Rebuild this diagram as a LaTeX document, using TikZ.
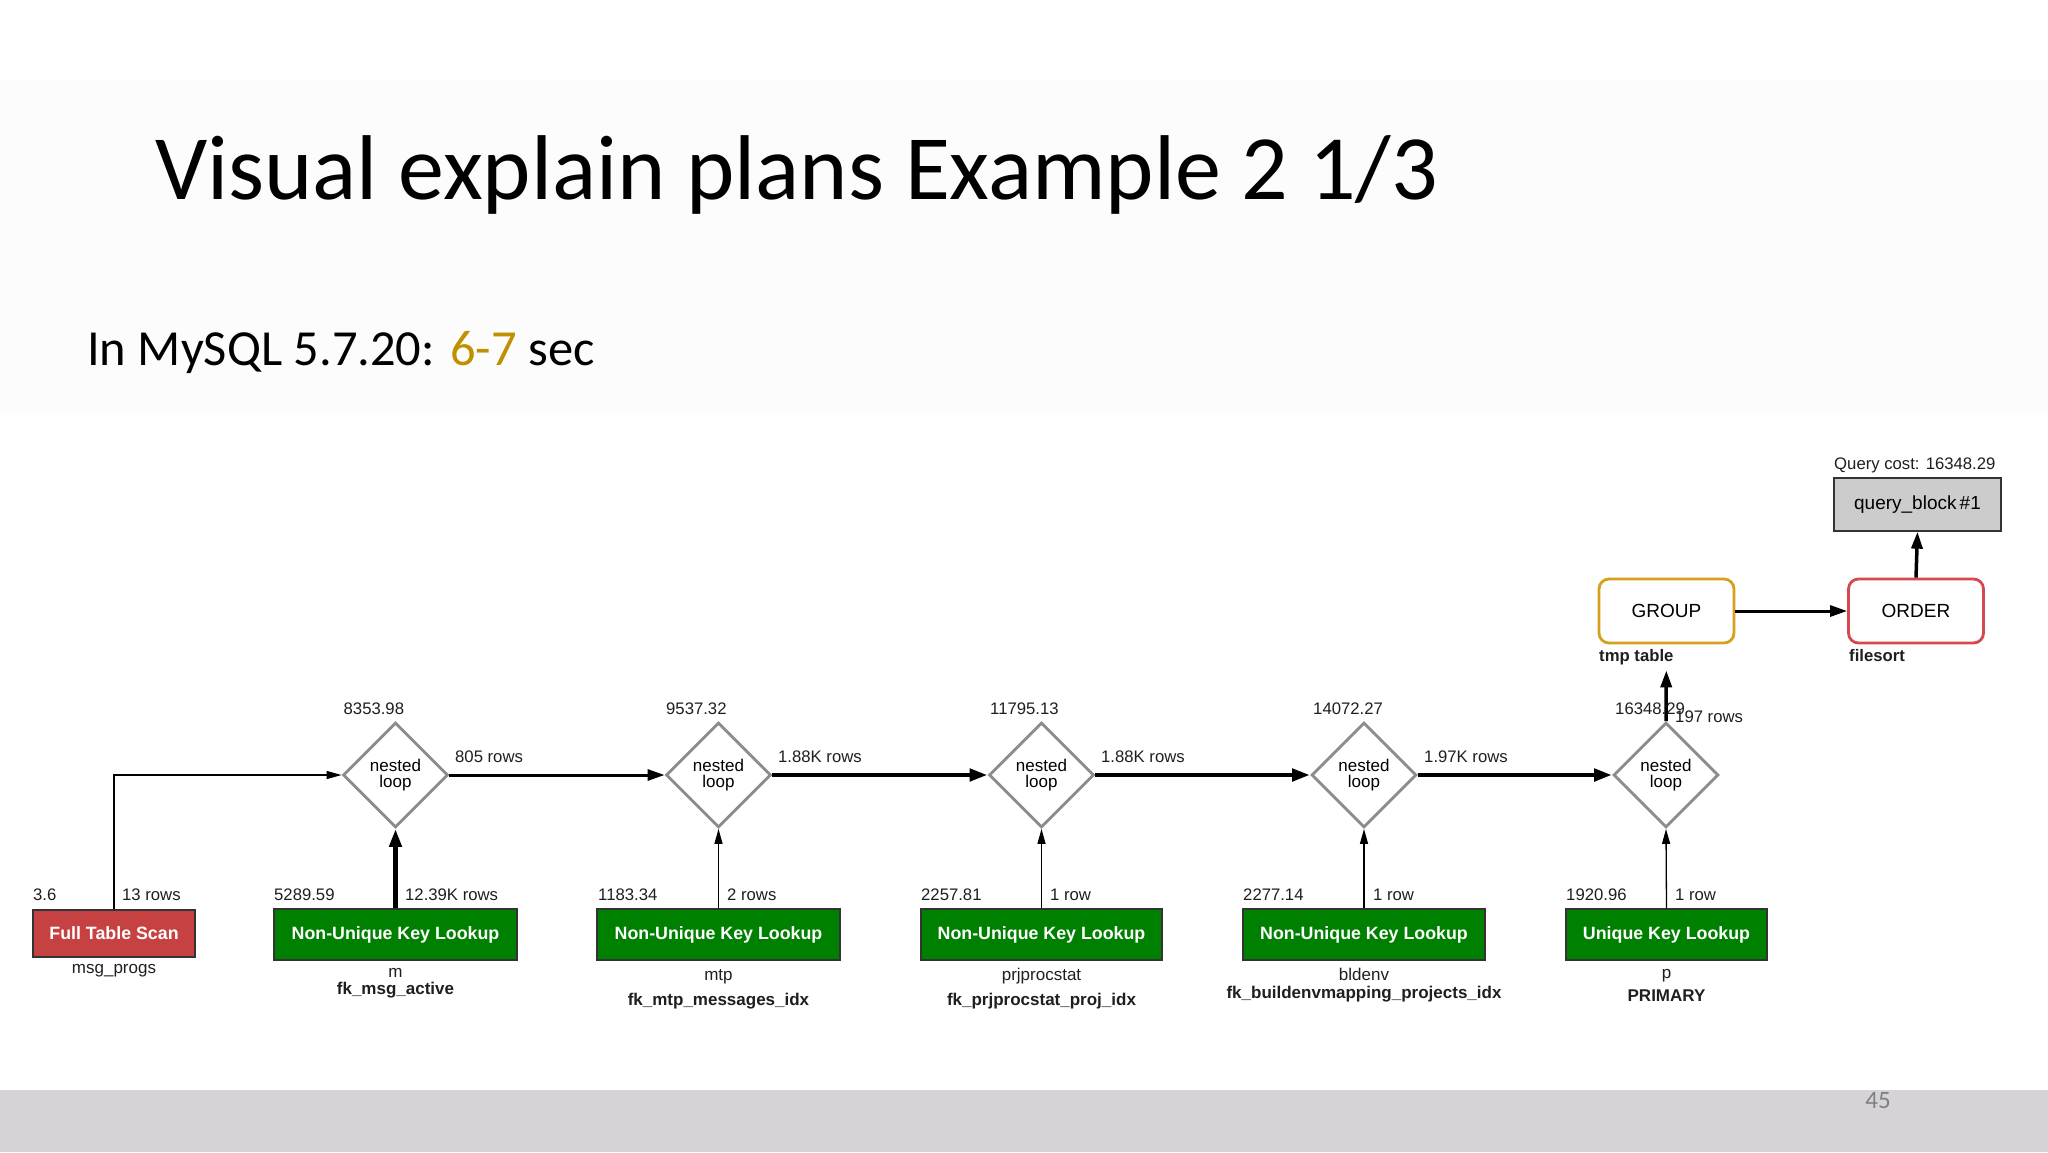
\documentclass[tikz,border=0pt]{standalone}
\usepackage{fontspec}
\setmainfont{Liberation Sans}
\newfontfamily\slidefont{Carlito}
\usetikzlibrary{arrows.meta,shapes.geometric}

\definecolor{boxgreen}{RGB}{0,128,0}
\definecolor{boxred}{RGB}{198,66,66}
\definecolor{diagray}{RGB}{140,140,140}
\definecolor{grpcol}{RGB}{214,160,30}
\definecolor{ordcol}{RGB}{212,72,78}
\definecolor{qbfill}{RGB}{204,204,204}
\definecolor{barcol}{RGB}{213,211,215}
\definecolor{goldtxt}{RGB}{191,144,0}
\definecolor{faintbg}{RGB}{252,252,252}
\definecolor{pagegray}{RGB}{128,128,128}

\tikzset{
  lbl/.style={font=\fontsize{16.7}{18}\selectfont, inner sep=0pt, anchor=base west, text=black!88},
  sublbl/.style={font=\fontsize{17}{19}\selectfont, inner sep=0pt, anchor=base, text=black!88},
  sublblb/.style={font=\fontsize{17}{19}\selectfont\bfseries, inner sep=0pt, anchor=base, text=black!88},
  opbox/.style={draw=black!80, line width=1.3pt, inner sep=0pt, text=white,
    font=\fontsize{17.8}{20}\selectfont\bfseries, minimum height=51pt},
  loopnode/.style={diamond, aspect=1, draw=diagray, line width=2.8pt, minimum width=105pt,
    minimum height=105pt, inner sep=0pt, align=center, font=\fontsize{17}{16}\selectfont},
  opround/.style={rounded corners=10pt, line width=2.8pt, minimum width=135pt, minimum height=64pt,
    inner sep=0pt, font=\fontsize{19}{21}\selectfont},
  flowthin/.style={draw=black, line width=1.3pt, -{Triangle[length=15pt,width=8pt]}},
  flowmid/.style={draw=black, line width=3pt, -{Triangle[length=17pt,width=11pt]}},
  flowthick/.style={draw=black, line width=4.5pt, -{Triangle[length=18pt,width=12pt]}},
}

\begin{document}
\begin{tikzpicture}[x=1pt,y=-1pt]
% background
\fill[white] (0,0) rectangle (2048,1152);
\useasboundingbox (0,0) rectangle (2048,1152);
\fill[faintbg] (0,80) rectangle (2048,413);
\fill[barcol] (0,1090) rectangle (2048,1152);
\node[anchor=base, inner sep=0pt, font=\slidefont\fontsize{25}{28}\selectfont, text=pagegray] (pagenum) at (1878,1108) {45};

% title
\node[anchor=base west, inner sep=0pt, font=\slidefont\fontsize{92}{100}\selectfont] (title) at (155,199) {Visual explain plans Example 2 1/3};
\node[anchor=base west, inner sep=0pt, font=\slidefont\fontsize{50.5}{60}\selectfont] (subtitle) at (87,365) {In MySQL 5.7.20: \textcolor{goldtxt}{6-7} sec};

% nested loops
\node[loopnode] (dia1) at (395.5,775) {nested\\loop};
\node[loopnode] (dia2) at (718.5,775) {nested\\loop};
\node[loopnode] (dia3) at (1041.5,775) {nested\\loop};
\node[loopnode] (dia4) at (1364,775) {nested\\loop};
\node[loopnode] (dia5) at (1666,775) {nested\\loop};

% access boxes
\node[opbox, fill=boxred, minimum width=162pt, minimum height=47pt] (fts) at (114,933.5) {Full Table Scan};
\node[opbox, fill=boxgreen, minimum width=243pt] (nu1) at (395.5,934.5) {Non-Unique Key Lookup};
\node[opbox, fill=boxgreen, minimum width=243pt] (nu2) at (718.5,934.5) {Non-Unique Key Lookup};
\node[opbox, fill=boxgreen, minimum width=241pt] (nu3) at (1041.5,934.5) {Non-Unique Key Lookup};
\node[opbox, fill=boxgreen, minimum width=242pt] (nu4) at (1364,934.5) {Non-Unique Key Lookup};
\node[opbox, fill=boxgreen, minimum width=201pt] (uk) at (1666.5,934.5) {Unique Key Lookup};

% group / order / query block
\node[opround, draw=grpcol] (grp) at (1666.5,611) {GROUP};
\node[opround, draw=ordcol] (ord) at (1916,611) {ORDER};
\node[draw=black!80, fill=qbfill, line width=1.3pt, minimum width=167pt, minimum height=53pt,
  inner sep=0pt, font=\fontsize{19}{21}\selectfont] (qb) at (1917.5,504.5) {query\_block\,\#1};

% connectors
\draw[flowthin] (fts.north) |- (dia1.west);
\draw[flowmid] (dia1.east) -- (dia2.west);
\draw[flowthick] (dia2.east) -- (dia3.west);
\draw[flowthick] (dia3.east) -- (dia4.west);
\draw[flowthick] (dia4.east) -- (dia5.west);
\draw[flowthick] (nu1.north) -- (dia1.south);
\draw[flowthin] (nu2.north) -- (dia2.south);
\draw[flowthin] (nu3.north) -- (dia3.south);
\draw[flowthin] (nu4.north) -- (dia4.south);
\draw[flowthin] (uk.north) -- (dia5.south);
\draw[flowmid, line width=3.5pt, shorten >=26pt] (dia5.north) -- (grp.south);
\draw[flowmid] (grp.east) -- (ord.west);
\draw[flowmid, line width=3.5pt] (ord.north) -- (qb.south);

% cost labels above loops
\node[lbl] (c1) at (343.5,714) {8353.98};
\node[lbl] (c2) at (666,714) {9537.32};
\node[lbl] (c3) at (990,714) {11795.13};
\node[lbl] (c4) at (1313,714) {14072.27};
\node[lbl] (c5) at (1615,714) {16348.29};
\node[lbl] (r5) at (1675,722.7) {197 rows};

% row labels on joins
\node[lbl] (r1) at (455,762) {805 rows};
\node[lbl] (r2) at (778,762) {1.88K rows};
\node[lbl] (r3) at (1101,762) {1.88K rows};
\node[lbl] (r4) at (1424,762) {1.97K rows};

% cost and rows above boxes
\node[lbl] (bc0) at (33,900) {3.6};
\node[lbl] (br0) at (122,900) {13 rows};
\node[lbl] (bc1) at (274,900) {5289.59};
\node[lbl] (br1) at (405,900) {12.39K rows};
\node[lbl] (bc2) at (598,900) {1183.34};
\node[lbl] (br2) at (727,900) {2 rows};
\node[lbl] (bc3) at (921,900) {2257.81};
\node[lbl] (br3) at (1050,900) {1 row};
\node[lbl] (bc4) at (1243,900) {2277.14};
\node[lbl] (br4) at (1373,900) {1 row};
\node[lbl] (bc5) at (1566,900) {1920.96};
\node[lbl] (br5) at (1675,900) {1 row};

% names below boxes
\node[sublbl] (t0) at (114,973) {msg\_progs};
\node[sublbl] (t1) at (395.5,977) {m};
\node[sublblb] (k1) at (395.5,994) {fk\_msg\_active};
\node[sublbl] (t2) at (718.5,980) {mtp};
\node[sublblb] (k2) at (718.5,1005) {fk\_mtp\_messages\_idx};
\node[sublbl] (t3) at (1041.5,980) {prjprocstat};
\node[sublblb] (k3) at (1041.5,1005) {fk\_prjprocstat\_proj\_idx};
\node[sublbl] (t4) at (1364,980) {bldenv};
\node[sublblb] (k4) at (1364,998) {fk\_buildenvmapping\_projects\_idx};
\node[sublbl] (t5) at (1666.5,978) {p};
\node[sublblb] (k5) at (1666.5,1001) {PRIMARY};

% top right labels
\node[lbl, font=\fontsize{16.7}{18}\selectfont\bfseries] (tmpl) at (1599,661.7) {tmp table};
\node[lbl, font=\fontsize{16.7}{18}\selectfont\bfseries] (fsl) at (1849,661.7) {filesort};
\node[lbl] (qcost) at (1834,469) {Query cost: 16348.29};
\end{tikzpicture}
\end{document}
